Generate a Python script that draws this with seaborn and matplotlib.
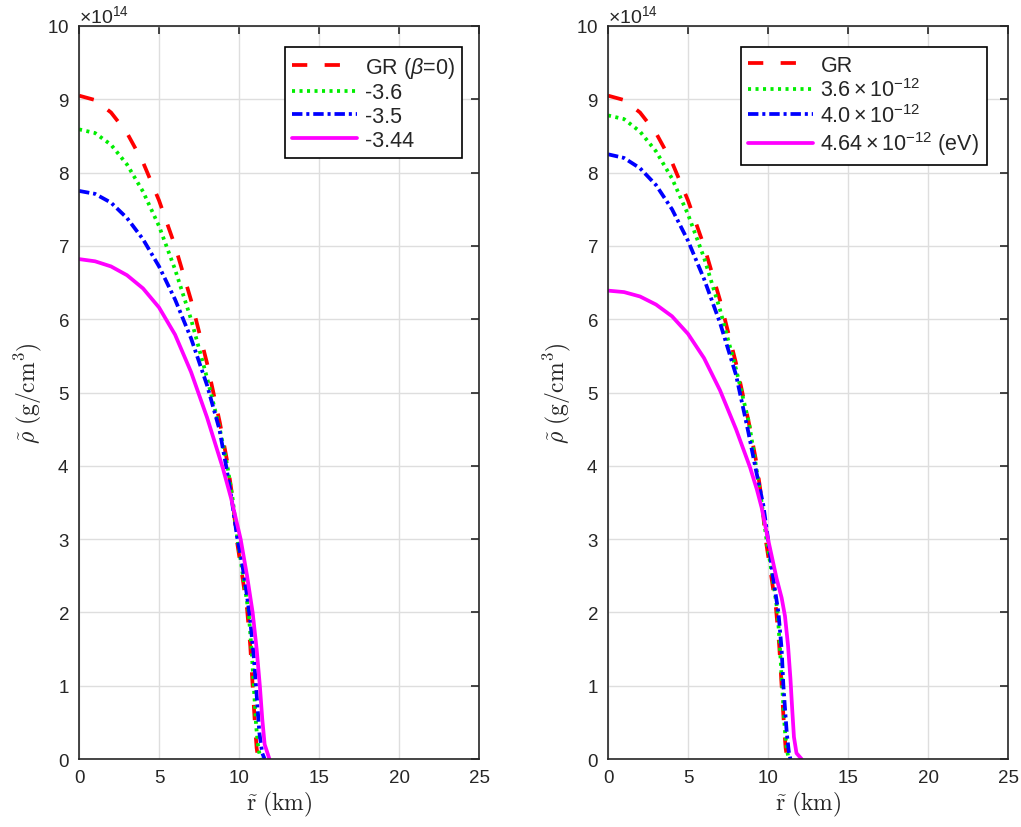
import numpy as np
import matplotlib
matplotlib.use("Agg")
import matplotlib.pyplot as plt
import seaborn as sns
from matplotlib.ticker import ScalarFormatter, MultipleLocator

# density profiles, radius in km and density in units of 1e14 g/cm^3
# GR curve is the same in both panels
r_gr = [0, 1, 2, 3, 4, 5, 6, 7, 8, 8.8, 9.27, 9.6, 9.85, 10.2, 10.5,
        10.7, 10.85, 11.0, 11.1, 11.2]
rho_gr = [9.05, 8.99, 8.82, 8.54, 8.14, 7.62, 7.0, 6.26, 5.4, 4.59, 4.05, 3.55,
          3.0, 2.5, 2.05, 1.55, 1.0, 0.45, 0.15, 0.0]

# left panel: beta values
r_b36 = [0, 1, 2, 3, 4, 5, 6, 7, 8, 8.8, 9.27, 9.6, 9.9, 10.25, 10.6,
         10.78, 10.92, 11.07, 11.2, 11.35]
rho_b36 = [8.59, 8.54, 8.38, 8.11, 7.74, 7.27, 6.68, 6.0, 5.2, 4.5, 4.0, 3.55,
           3.0, 2.5, 2.0, 1.5, 1.0, 0.45, 0.15, 0.0]

r_b35 = [0, 1, 2, 3, 4, 5, 6, 7, 8, 8.77, 9.19, 9.5, 9.9, 10.17, 10.45, 10.69,
         10.9, 11.06, 11.27, 11.45, 11.6]
rho_b35 = [7.75, 7.71, 7.59, 7.38, 7.09, 6.72, 6.27, 5.74, 5.1, 4.5, 4.0, 3.6,
           3.0, 2.7, 2.3, 1.91, 1.45, 1.0, 0.36, 0.08, 0.0]

r_b344 = [0, 1, 2, 3, 4, 5, 6, 7, 8, 9, 9.5, 10.1, 10.5, 10.85, 11.1, 11.3,
          11.45, 11.6, 11.9]
rho_b344 = [6.82, 6.79, 6.72, 6.60, 6.42, 6.16, 5.79, 5.28, 4.66, 3.96, 3.56,
            3.0, 2.5, 2.0, 1.5, 1.0, 0.55, 0.2, 0.0]

# right panel: mass values (eV)
r_m36 = [0, 1, 2, 3, 4, 5, 6, 7, 8, 8.8, 9.25, 9.6, 9.9, 10.3, 10.6, 10.75,
         10.88, 11.05, 11.18, 11.3]
rho_m36 = [8.78, 8.73, 8.56, 8.29, 7.92, 7.43, 6.84, 6.13, 5.32, 4.6, 4.0, 3.5,
           3.0, 2.45, 2.0, 1.5, 1.0, 0.4, 0.12, 0.0]

r_m40 = [0, 1, 2, 3, 4, 5, 6, 7, 8, 8.77, 9.19, 9.71, 10.0, 10.3, 10.65,
         10.85, 10.96, 11.17, 11.3, 11.4]
rho_m40 = [8.25, 8.2, 8.06, 7.83, 7.5, 7.07, 6.55, 5.95, 5.24, 4.46, 4.0, 3.46,
           3.0, 2.5, 2.0, 1.5, 1.0, 0.36, 0.1, 0.0]

r_m464 = [0, 1, 2, 3, 4, 5, 6, 7, 8, 8.875, 9.3, 9.6, 9.95, 10.54, 10.85,
          11.06, 11.25, 11.4, 11.52, 11.62, 11.78, 12.1]
rho_m464 = [6.39, 6.37, 6.31, 6.20, 6.04, 5.80, 5.47, 5.03, 4.50, 3.98, 3.68,
            3.43, 3.05, 2.46, 2.2, 1.95, 1.55, 1.1, 0.65, 0.3, 0.08, 0.0]

labels_left = [r"GR ($\beta$=0)", "-3.6", "-3.5", "-3.44"]
labels_right = ["GR", r"$3.6\times10^{-12}$", r"$4.0\times10^{-12}$",
                r"$4.64\times10^{-12}$ (eV)"]

# red dashed, green dotted, blue dash-dot, magenta solid (MATLAB look)
styles = [
    dict(color="#ff0000", linestyle=(0, (11, 12.5))),
    dict(color="#00ee00", linestyle=(0, (2.2, 3.2))),
    dict(color="#0000ff", linestyle=(0, (7.5, 2.8, 2.2, 2.8))),
    dict(color="#ff00ff", linestyle="-"),
]

sns.set_theme(style="whitegrid", rc={
    "grid.color": "#dedede",
    "grid.linewidth": 1.0,
    "axes.edgecolor": "#262626",
    "axes.linewidth": 1.2,
    "xtick.direction": "in",
    "ytick.direction": "in",
    "xtick.major.size": 5.5,
    "ytick.major.size": 5.5,
    "xtick.major.width": 1.2,
    "ytick.major.width": 1.2,
    "xtick.color": "#262626",
    "ytick.color": "#262626",
    "xtick.labelsize": 13.5,
    "ytick.labelsize": 13.5,
    "lines.scale_dashes": False,
})
plt.rcParams["font.family"] = ["Liberation Sans", "DejaVu Sans"]
plt.rcParams["mathtext.fontset"] = "custom"
plt.rcParams["mathtext.rm"] = "Liberation Sans"
plt.rcParams["mathtext.it"] = "Liberation Sans:italic"
plt.rcParams["mathtext.bf"] = "Liberation Sans:bold"


def draw_panel(ax, curves, labels, anchor_x):
    for (r, rho), lab, st in zip(curves, labels, styles):
        sns.lineplot(x=np.asarray(r), y=np.asarray(rho) * 1e14, ax=ax,
                     estimator=None, sort=False, linewidth=2.7, label=lab,
                     color=st["color"], linestyle=st["linestyle"])

    ax.set_xlim(0, 25)
    ax.set_ylim(0, 10e14)
    ax.xaxis.set_major_locator(MultipleLocator(5))
    ax.yaxis.set_major_locator(MultipleLocator(1e14))
    fmt = ScalarFormatter(useMathText=True)
    fmt.set_powerlimits((14, 14))
    ax.yaxis.set_major_formatter(fmt)
    ax.yaxis.get_offset_text().set_fontsize(14)
    ax.yaxis.get_offset_text().set_color("#262626")
    ax.tick_params(top=True, right=True, pad=7)
    for s in ax.spines.values():
        s.set_visible(True)

    ax.set_xlabel(r"$\tilde{\mathrm{r}}\ \mathrm{(km)}$", fontsize=17,
                  math_fontfamily="cm", labelpad=2)
    ax.set_ylabel(r"$\tilde{\rho}\ \mathrm{(g/cm^3)}$", fontsize=17,
                  math_fontfamily="cm", labelpad=2)

    leg = ax.legend(loc="upper right", bbox_to_anchor=(anchor_x, 0.971),
                    borderaxespad=0, fontsize=15.5, handlelength=3.0,
                    handletextpad=0.35, labelspacing=0.12, borderpad=0.35,
                    fancybox=False, framealpha=1, edgecolor="black")
    leg.get_frame().set_linewidth(1.2)


fig = plt.figure(figsize=(10.21, 8.28), dpi=100)
ax1 = fig.add_axes([0.0774, 0.0821, 0.3918, 0.8853])
ax2 = fig.add_axes([0.5955, 0.0821, 0.3918, 0.8853])

draw_panel(ax1, [(r_gr, rho_gr), (r_b36, rho_b36), (r_b35, rho_b35),
                 (r_b344, rho_b344)], labels_left, 0.9575)
draw_panel(ax2, [(r_gr, rho_gr), (r_m36, rho_m36), (r_m40, rho_m40),
                 (r_m464, rho_m464)], labels_right, 0.9475)

fig.savefig("out.png", dpi=100)
